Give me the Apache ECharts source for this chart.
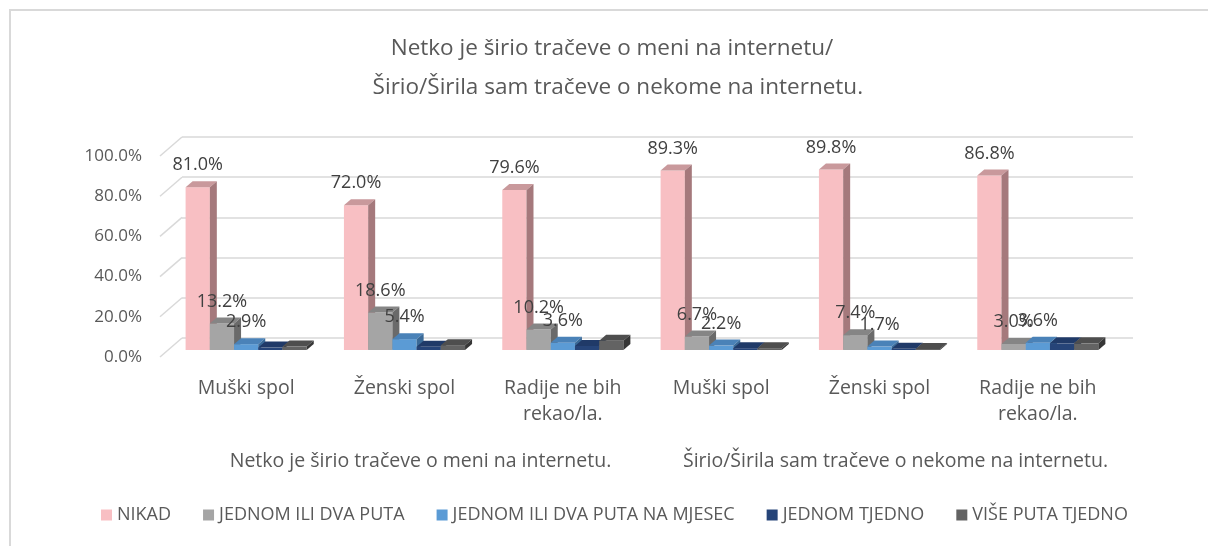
<!DOCTYPE html>
<html>
<head>
<meta charset="utf-8">
<script src="https://cdn.jsdelivr.net/npm/echarts@6/dist/echarts.min.js"></script>
<style>
  html, body { margin: 0; padding: 0; background: #ffffff; }
  #chart { width: 1208px; height: 546px; }
</style>
</head>
<body>
<div id="chart"></div>
<script>
// Categories (gender answers) and the two question groups they belong to
const categories = ['Muški spol', 'Ženski spol', 'Radije ne bih\nrekao/la.', 'Muški spol', 'Ženski spol', 'Radije ne bih\nrekao/la.'];
const groupNames = ['Netko je širio tračeve o meni na internetu.', 'Širio/Širila sam tračeve o nekome na internetu.'];

// Answer frequencies, in percent
const seriesNames = ['NIKAD', 'JEDNOM ILI DVA PUTA', 'JEDNOM ILI DVA PUTA NA MJESEC', 'JEDNOM TJEDNO', 'VIŠE PUTA TJEDNO'];
const nikad        = [81.0, 72.0, 79.6, 89.3, 89.8, 86.8];
const jednomIliDva = [13.2, 18.6, 10.2, 6.7, 7.4, 3.0];
const naMjesec     = [2.9, 5.4, 3.6, 2.2, 1.7, 3.6];
const jednomTjedno = [1.2, 1.6, 2.0, 0.9, 0.6, 3.3];
const visePuta     = [1.7, 2.4, 4.6, 0.9, 0.5, 3.3];

// Value axis ticks
const yTicks = [0, 20, 40, 60, 80, 100];

const seriesValues = [nikad, jednomIliDva, naMjesec, jednomTjedno, visePuta];
// front / top / side shades of each column
const palettes = [
  ['#F8BFC3', '#C9999C', '#A5797C'],
  ['#A5A5A5', '#858585', '#6A6A6A'],
  ['#5B9BD5', '#4A82B8', '#3A6A98'],
  ['#264478', '#203A68', '#17294A'],
  ['#636363', '#4E4E4E', '#363636']
];
const labelled = [true, true, true, false, false];

const FONT = '"Open Sans", "Noto Sans", sans-serif';
const BAR_FRAC = 0.153;   // column width as a share of the category band
const DEPTH_X = 7, DEPTH_Y = 6;

function columnRenderer(idx) {
  const pal = palettes[idx];
  return function (params, api) {
    const ci = api.value(0);
    const v = api.value(1);
    const base = api.coord([ci, 0]);
    const top = api.coord([ci, v]);
    const band = api.size([1, 0])[0];
    const w = band * BAR_FRAC;
    const x = base[0] - 2.5 * w + idx * w;
    const yb = base[1], yt = top[1];
    const children = [
      { type: 'rect', shape: { x: x, y: yt, width: w, height: yb - yt }, style: { fill: pal[0] } },
      { type: 'polygon', shape: { points: [[x, yt], [x + DEPTH_X, yt - DEPTH_Y], [x + w + DEPTH_X, yt - DEPTH_Y], [x + w, yt]] }, style: { fill: pal[1] } },
      { type: 'polygon', shape: { points: [[x + w, yt], [x + w + DEPTH_X, yt - DEPTH_Y], [x + w + DEPTH_X, yb - DEPTH_Y], [x + w, yb]] }, style: { fill: pal[2] } }
    ];
    if (labelled[idx]) {
      children.push({
        type: 'text', z2: 100,
        style: {
          text: v.toFixed(1) + '%', x: x + w / 2, y: yt - 22,
          align: 'center', verticalAlign: 'middle',
          fill: '#404040', fontSize: 18, fontFamily: FONT
        }
      });
    }
    return { type: 'group', children: children };
  };
}

const columnSeries = seriesValues.map(function (vals, idx) {
  return {
    name: seriesNames[idx],
    type: 'custom',
    coordinateSystem: 'cartesian2d',
    xAxisIndex: 0, yAxisIndex: 0,
    encode: { x: 0, y: 1 },
    itemStyle: { color: palettes[idx][0] },
    renderItem: columnRenderer(idx),
    data: vals.map(function (v, i) { return [i, v]; }),
    z: 3
  };
});

// perspective edges of the side wall, one per tick
const wallEdges = {
  type: 'custom',
  coordinateSystem: 'cartesian2d',
  xAxisIndex: 3, yAxisIndex: 2,
  encode: { x: 0, y: 1 },
  silent: true,
  renderItem: function (params, api) {
    const p = api.coord([api.value(0), api.value(1)]);
    return {
      type: 'line',
      shape: { x1: p[0] - 22, y1: p[1] + 19, x2: p[0], y2: p[1] },
      style: { stroke: '#D9D9D9', lineWidth: 1.5 }
    };
  },
  data: yTicks.map(function (t) { return [0, t]; }),
  z: 1
};

const chart = echarts.init(document.getElementById('chart'), null, { renderer: 'canvas' });
chart.setOption({
  backgroundColor: '#ffffff',
  animation: false,
  title: {
    text: 'Netko je širio tračeve o meni na internetu/\n  Širio/Širila sam tračeve o nekome na internetu.',
    left: 607, top: 24, textAlign: 'center',
    textStyle: { fontFamily: FONT, fontSize: 22.5, fontWeight: 'normal', color: '#595959', lineHeight: 39 }
  },
  legend: {
    data: seriesNames,
    left: 96, top: 501,
    icon: 'rect', itemWidth: 11, itemHeight: 11, itemGap: 32,
    textStyle: { fontFamily: FONT, fontSize: 18, color: '#595959' }
  },
  graphic: [{
    type: 'rect', silent: true,
    shape: { x: 10, y: 10, width: 1400, height: 700 },
    style: { fill: 'none', stroke: '#D9D9D9', lineWidth: 2 }
  }],
  grid: [
    { left: 167, top: 149, width: 950, height: 201 },   // columns
    { left: 160, top: 156, width: 1, height: 201 },     // front edge with tick labels
    { left: 182, top: 137, width: 951, height: 201 }    // back wall
  ],
  xAxis: [
    {
      type: 'category', gridIndex: 0, data: categories,
      axisLine: { show: false }, axisTick: { show: false },
      axisLabel: { interval: 0, margin: 25, fontFamily: FONT, fontSize: 19.5, color: '#595959', lineHeight: 26 }
    },
    {
      type: 'category', gridIndex: 0, position: 'bottom', data: groupNames,
      axisLine: { show: false }, axisTick: { show: false },
      axisLabel: { interval: 0, margin: 100, padding: [0, 0, 0, 32], fontFamily: FONT, fontSize: 19.5, color: '#595959', lineHeight: 22 }
    },
    { type: 'value', gridIndex: 1, min: 0, max: 1, show: false },
    { type: 'value', gridIndex: 2, min: 0, max: 1, show: false }
  ],
  yAxis: [
    { type: 'value', gridIndex: 0, min: 0, max: 100, interval: 20, show: false },
    {
      type: 'value', gridIndex: 1, min: 0, max: 100, interval: 20,
      axisLine: { show: false }, axisTick: { show: false }, splitLine: { show: false },
      axisLabel: { margin: 18, fontFamily: FONT, fontSize: 17, color: '#595959', formatter: function (v) { return v.toFixed(1) + '%'; } }
    },
    {
      type: 'value', gridIndex: 2, min: 0, max: 100, interval: 20,
      axisLine: { show: false }, axisTick: { show: false }, axisLabel: { show: false },
      splitLine: { show: true, lineStyle: { color: '#D9D9D9', width: 1.5 } }
    }
  ],
  series: [wallEdges].concat(columnSeries)
});
</script>
</body>
</html>
